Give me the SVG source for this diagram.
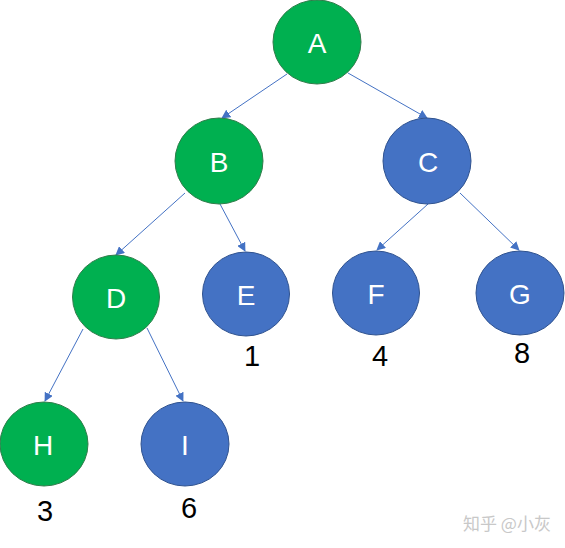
<svg xmlns="http://www.w3.org/2000/svg" width="565" height="548" viewBox="0 0 565 548">
<style>
.g{fill:#00B050;stroke:#2F7D4A;stroke-width:1}
.b{fill:#4472C4;stroke:#2F528F;stroke-width:1}
.t{font-family:"Liberation Sans","DejaVu Sans",sans-serif;font-size:28px;fill:#fff;text-anchor:middle}
.n{font-family:"Liberation Sans","DejaVu Sans",sans-serif;font-size:29px;fill:#000;text-anchor:middle}
.e{stroke:#4472C4;stroke-width:1;fill:none;marker-end:url(#ah)}
</style>
<defs>
<marker id="ah" viewBox="0 0 10 10" refX="9" refY="5" markerWidth="9" markerHeight="9" markerUnits="userSpaceOnUse" orient="auto">
<path d="M0,0 L10,5 L0,10 z" fill="#4472C4"/>
</marker>
</defs>
<rect width="565" height="548" fill="#fff"/>
<g id="connectors">
<line class="e" x1="287" y1="74" x2="222" y2="118"/>
<line class="e" x1="348" y1="73" x2="427" y2="118"/>
<line class="e" x1="185" y1="193" x2="116" y2="255"/>
<line class="e" x1="220" y1="204" x2="245" y2="251"/>
<line class="e" x1="428" y1="204" x2="377" y2="250"/>
<line class="e" x1="460" y1="193" x2="519" y2="250"/>
<line class="e" x1="83" y1="329" x2="45" y2="401"/>
<line class="e" x1="147" y1="328" x2="183" y2="401"/>
</g>
<g id="A"><ellipse class="g" cx="317" cy="42" rx="44" ry="42"/><text class="t" x="317" y="53">A</text></g>
<g id="B"><ellipse class="g" cx="219" cy="161" rx="44" ry="43"/><text class="t" x="219" y="172">B</text></g>
<g id="C"><ellipse class="b" cx="427" cy="161" rx="44" ry="43"/><text class="t" x="428" y="172">C</text></g>
<g id="D"><ellipse class="g" cx="116" cy="297" rx="43.5" ry="42"/><text class="t" x="116" y="308">D</text></g>
<g id="E"><ellipse class="b" cx="246" cy="294" rx="43.5" ry="42"/><text class="t" x="246" y="305">E</text><text class="n" x="252" y="366">1</text></g>
<g id="F"><ellipse class="b" cx="376" cy="293" rx="43.5" ry="42"/><text class="t" x="376" y="304">F</text><text class="n" x="380" y="366">4</text></g>
<g id="G"><ellipse class="b" cx="520" cy="293" rx="44" ry="42"/><text class="t" x="520" y="304">G</text><text class="n" x="522" y="363">8</text></g>
<g id="H"><ellipse class="g" cx="44" cy="444" rx="44" ry="42"/><text class="t" x="43" y="455">H</text><text class="n" x="45" y="521">3</text></g>
<g id="I"><ellipse class="b" cx="185" cy="444" rx="44" ry="42"/><text class="t" x="185" y="455">I</text><text class="n" x="189" y="518">6</text></g>
<text x="463" y="530" font-family="'Noto Sans CJK SC',sans-serif" font-size="17" fill="#c8c8c8">知乎 @小灰</text>
</svg>
